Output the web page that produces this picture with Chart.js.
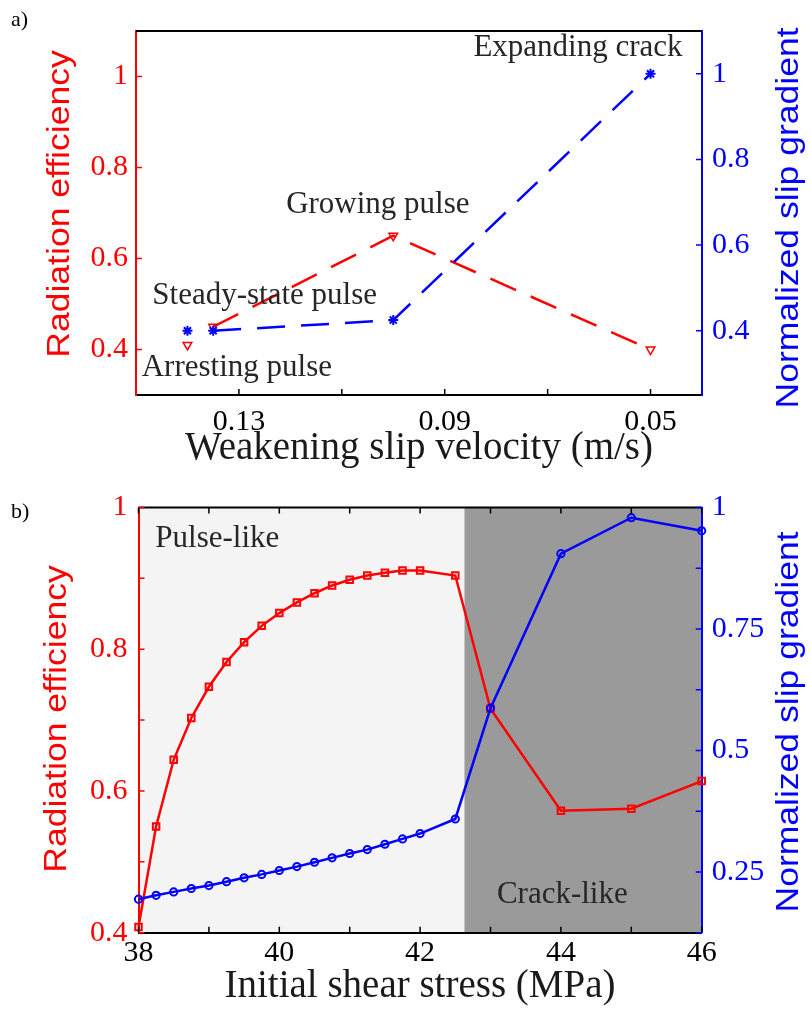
<!DOCTYPE html>
<html lang="en">
<head>
<meta charset="UTF-8">
<title>Radiation efficiency and slip gradient</title>
<script src="https://cdn.jsdelivr.net/npm/chart.js"></script>
<style>
  body { margin: 0; background: #fff; }
  canvas { position: absolute; left: 0; }
  #panelA { top: 0; }
  #panelB { top: 470px; }
</style>
</head>
<body>
<canvas id="panelA" width="811" height="470"></canvas>
<canvas id="panelB" width="811" height="552"></canvas>
<script>
// ---- panel a: rupture regimes vs weakening slip velocity ----
const regimes = ['Arresting pulse', 'Steady-state pulse', 'Growing pulse', 'Expanding crack'];
const velocity = [0.14, 0.135, 0.10, 0.05];
const velEfficiency = [0.41, 0.45, 0.65, 0.40];
const velGradient = [0.40, 0.40, 0.425, 1.0];
const velTicks = [0.13, 0.11, 0.09, 0.07, 0.05];
const velTickLabels = ['0.13', '', '0.09', '', '0.05'];
const velEffTicks = [0.4, 0.6, 0.8, 1];
const velEffTickLabels = ['0.4', '0.6', '0.8', '1'];
const velGradTicks = [0.4, 0.6, 0.8, 1];
const velGradTickLabels = ['0.4', '0.6', '0.8', '1'];

// ---- panel b: sweep over initial shear stress ----
const stress = [38, 38.25, 38.5, 38.75, 39, 39.25, 39.5, 39.75, 40, 40.25, 40.5, 40.75,
                41, 41.25, 41.5, 41.75, 42, 42.5, 43, 44, 45, 46];
const stressEfficiency = [0.408, 0.550, 0.644, 0.703, 0.747, 0.782, 0.810, 0.833, 0.851, 0.866, 0.879, 0.890,
                          0.898, 0.904, 0.908, 0.911, 0.911, 0.904, 0.716, 0.572, 0.575, 0.614];
const stressGradient = [0.194, 0.202, 0.209, 0.216, 0.222, 0.230, 0.238, 0.245, 0.253, 0.261, 0.270, 0.279,
                        0.288, 0.296, 0.307, 0.318, 0.329, 0.359, 0.587, 0.905, 0.979, 0.952];
const crackOnset = 42.63;
const modes = ['Pulse-like', 'Crack-like'];
const stressTicks = [38, 39, 40, 41, 42, 43, 44, 45, 46];
const stressTickLabels = ['38', '', '40', '', '42', '', '44', '', '46'];
const stressEffTicks = [0.4, 0.5, 0.6, 0.7, 0.8, 0.9, 1];
const stressEffTickLabels = ['0.4', '', '0.6', '', '0.8', '', '1'];
const stressGradTicks = [0.125, 0.25, 0.375, 0.5, 0.625, 0.75, 0.875, 1];
const stressGradTickLabels = ['', '0.25', '', '0.5', '', '0.75', '', '1'];

const RED = '#ff0000';
const BLUE = '#0000ff';
const SERIF = "'Liberation Serif', 'Times New Roman', serif";
const SANS = "'Liberation Sans', Arial, sans-serif";

function points(xs, ys) {
  return xs.map((x, i) => ({ x: x, y: ys[i] }));
}

function fixedTicks(values) {
  return scale => { scale.ticks = values.map(v => ({ value: v })); };
}

function fixedSize(px) {
  return scale => {
    if (scale.isHorizontal()) scale.height = px; else scale.width = px;
  };
}

function axis(opts) {
  return {
    type: 'linear',
    position: opts.position,
    min: opts.min,
    max: opts.max,
    reverse: !!opts.reverse,
    afterBuildTicks: fixedTicks(opts.ticks),
    afterFit: fixedSize(opts.size),
    grid: { display: false, drawTicks: false },
    border: { color: opts.color, width: 2 },
    ticks: {
      autoSkip: false,
      maxRotation: 0,
      padding: opts.padding,
      color: opts.color,
      font: { family: SERIF, size: 30 },
      callback: (v, i) => opts.labels[i]
    }
  };
}

// frame, inward ticks, shaded regimes and all free text
const decor = {
  id: 'decor',
  beforeDraw(chart, args, o) {
    const { ctx, chartArea: a, scales } = chart;
    (o.bands || []).forEach(b => {
      const x0 = scales.x.getPixelForValue(b.from);
      const x1 = scales.x.getPixelForValue(b.to);
      ctx.fillStyle = b.color;
      ctx.fillRect(x0, a.top, x1 - x0, a.bottom - a.top);
    });
  },
  afterDraw(chart, args, o) {
    const { ctx, chartArea: a, scales } = chart;
    ctx.save();
    ctx.strokeStyle = '#000';
    ctx.lineWidth = 2;
    ctx.beginPath();
    ctx.moveTo(a.left, a.top);
    ctx.lineTo(a.right, a.top);
    ctx.stroke();

    const len = 6;
    Object.values(scales).forEach(s => {
      ctx.strokeStyle = s.options.border.color;
      ctx.lineWidth = 1.5;
      ctx.beginPath();
      s.ticks.forEach(t => {
        const p = s.getPixelForValue(t.value);
        if (s.isHorizontal()) {
          ctx.moveTo(p, a.bottom); ctx.lineTo(p, a.bottom - len);
          if (o.topTicks) { ctx.moveTo(p, a.top); ctx.lineTo(p, a.top + len); }
        } else if (s.position === 'left') {
          ctx.moveTo(a.left, p); ctx.lineTo(a.left + len, p);
        } else {
          ctx.moveTo(a.right, p); ctx.lineTo(a.right - len, p);
        }
      });
      ctx.stroke();
    });

    // labels placed in data units
    ctx.fillStyle = '#262626';
    ctx.font = '31px ' + SERIF;
    ctx.textAlign = 'center';
    ctx.textBaseline = 'alphabetic';
    (o.notes || []).forEach(n => {
      ctx.fillText(n.text, scales.x.getPixelForValue(n.x), scales.y.getPixelForValue(n.y));
    });

    // axis titles and panel letter
    (o.titles || []).forEach(t => {
      ctx.save();
      ctx.translate(t.x, t.y);
      if (t.vertical) ctx.rotate(-Math.PI / 2);
      ctx.scale(t.stretch || 1, 1);
      ctx.font = t.font;
      ctx.fillStyle = t.color;
      ctx.textAlign = t.align || 'center';
      ctx.fillText(t.text, 0, 0);
      ctx.restore();
    });
    ctx.restore();
  }
};
Chart.register(decor);

// panel a
new Chart(document.getElementById('panelA'), {
  type: 'line',
  data: {
    datasets: [
      {
        label: 'Normalized slip gradient',
        data: points(velocity, velGradient),
        yAxisID: 'y2',
        borderColor: BLUE,
        backgroundColor: BLUE,
        borderWidth: 2.5,
        borderDash: [28, 16],
        pointStyle: 'star',
        pointRadius: 5,
        pointBorderWidth: 2,
        tension: 0,
        clip: false,
        segment: { borderColor: c => c.p0DataIndex === 0 ? 'rgba(0,0,0,0)' : undefined }
      },
      {
        label: 'Radiation efficiency',
        data: points(velocity, velEfficiency),
        yAxisID: 'y',
        borderColor: RED,
        backgroundColor: 'rgba(0,0,0,0)',
        borderWidth: 2.5,
        borderDash: [28, 16],
        pointStyle: 'triangle',
        rotation: 180,
        pointRadius: 5,
        pointBorderWidth: 1.5,
        tension: 0,
        clip: false,
        segment: { borderColor: c => c.p0DataIndex === 0 ? 'rgba(0,0,0,0)' : undefined }
      }
    ]
  },
  options: {
    responsive: false,
    animation: false,
    layout: { padding: { top: 31 } },
    plugins: {
      legend: { display: false },
      tooltip: { enabled: false },
      decor: {
        notes: [
          { text: regimes[3], x: 0.0641, y: 1.046 },
          { text: regimes[2], x: 0.103, y: 0.70 },
          { text: regimes[1], x: 0.125, y: 0.499 },
          { text: regimes[0], x: 0.1304, y: 0.3415 }
        ],
        titles: [
          { text: 'a)', x: 11, y: 26, align: 'left', font: '22px ' + SERIF, color: '#000' },
          { text: 'Radiation efficiency', x: 69, y: 204, vertical: true, stretch: 1.11, font: '32px ' + SANS, color: RED },
          { text: 'Normalized slip gradient', x: 798, y: 218, vertical: true, stretch: 1.11, font: '32px ' + SANS, color: BLUE },
          { text: 'Weakening slip velocity (m/s)', x: 419, y: 459, font: '39px ' + SERIF, color: '#1a1a1a' }
        ]
      }
    },
    scales: {
      x: axis({ position: 'bottom', min: 0.04, max: 0.15, reverse: true, ticks: velTicks, labels: velTickLabels, size: 75, padding: 9, color: '#000' }),
      y: axis({ position: 'left', min: 0.3, max: 1.1, ticks: velEffTicks, labels: velEffTickLabels, size: 136, padding: 8, color: RED }),
      y2: axis({ position: 'right', min: 0.25, max: 1.1, ticks: velGradTicks, labels: velGradTickLabels, size: 109, padding: 10, color: BLUE })
    }
  }
});

// panel b
new Chart(document.getElementById('panelB'), {
  type: 'line',
  data: {
    datasets: [
      {
        label: 'Normalized slip gradient',
        data: points(stress, stressGradient),
        yAxisID: 'y2',
        borderColor: BLUE,
        backgroundColor: 'rgba(0,0,0,0)',
        borderWidth: 2.5,
        pointStyle: 'circle',
        pointRadius: 3.6,
        pointBorderWidth: 2,
        tension: 0,
        clip: false
      },
      {
        label: 'Radiation efficiency',
        data: points(stress, stressEfficiency),
        yAxisID: 'y',
        borderColor: RED,
        backgroundColor: 'rgba(0,0,0,0)',
        borderWidth: 2.5,
        pointStyle: 'rect',
        pointRadius: 4.6,
        pointBorderWidth: 2,
        tension: 0,
        clip: false
      }
    ]
  },
  options: {
    responsive: false,
    animation: false,
    layout: { padding: { top: 37.5 } },
    plugins: {
      legend: { display: false },
      tooltip: { enabled: false },
      decor: {
        topTicks: true,
        bands: [
          { from: 38, to: crackOnset, color: '#f4f4f4' },
          { from: crackOnset, to: 46, color: '#9a9a9a' }
        ],
        notes: [
          { text: modes[0], x: 39.12, y: 0.9437 },
          { text: modes[1], x: 44.02, y: 0.4416 }
        ],
        titles: [
          { text: 'b)', x: 11, y: 48, align: 'left', font: '22px ' + SERIF, color: '#000' },
          { text: 'Radiation efficiency', x: 66, y: 249, vertical: true, stretch: 1.11, font: '32px ' + SANS, color: RED },
          { text: 'Normalized slip gradient', x: 798, y: 252, vertical: true, stretch: 1.11, font: '32px ' + SANS, color: BLUE },
          { text: 'Initial shear stress (MPa)', x: 420, y: 527, font: '39px ' + SERIF, color: '#1a1a1a' }
        ]
      }
    },
    scales: {
      x: axis({ position: 'bottom', min: 38, max: 46, ticks: stressTicks, labels: stressTickLabels, size: 89.3, padding: 2, color: '#000' }),
      y: axis({ position: 'left', min: 0.4, max: 1, ticks: stressEffTicks, labels: stressEffTickLabels, size: 138.5, padding: 11, color: RED }),
      y2: axis({ position: 'right', min: 0.125, max: 1, ticks: stressGradTicks, labels: stressGradTickLabels, size: 109.3, padding: 10, color: BLUE })
    }
  }
});
</script>
</body>
</html>
